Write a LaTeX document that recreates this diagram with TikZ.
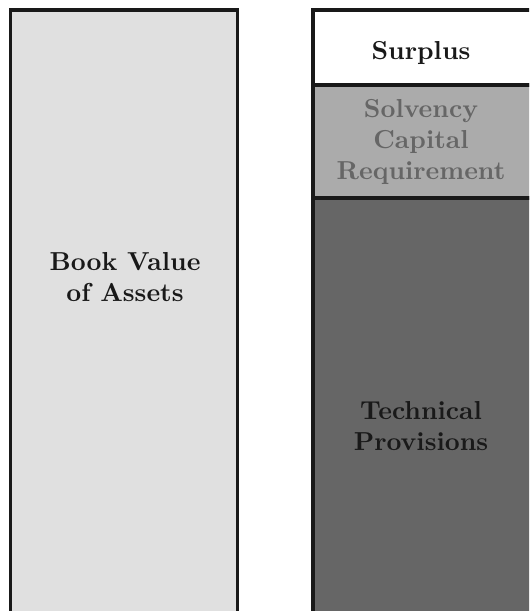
\documentclass[tikz,border=0pt]{standalone}
\usepackage{tikz}

\tikzset{
  block/.style={draw=black!90, line width=1.2pt},
  blocklabel/.style={font=\bfseries, align=center, text=black!90},
}

\begin{document}
\begin{tikzpicture}[x=0.385pt, y=-0.385pt]
			% Fix the frame of the picture:
			\useasboundingbox (0, 0) rectangle (529, 611);
			\clip (0, 0) rectangle (529, 611);
			% Specify the corners of the assets column:
			\coordinate (A0) at (10.5, 10);
			\coordinate (A1) at (237.5, 660);
			% Specify the corners of the liabilities column:
			\coordinate (L0) at (313, 10);
			\coordinate (L1) at (534, 85);
			\coordinate (L2) at (313, 85);
			\coordinate (L3) at (534, 198);
			\coordinate (L4) at (313, 198);
			\coordinate (L5) at (534, 660);
			% Draw the blocks:
			\draw[block, fill=black!12] (A0) rectangle (A1);
			\draw[block, fill=white] (L0) rectangle (L1);
			\draw[block, fill=black!33] (L2) rectangle (L3);
			\draw[block, fill=black!60] (L4) rectangle (L5);
			% Specify the position of the labels:
			\coordinate (C0) at (125, 277);
			\node[blocklabel] (assets) at (C0) {Book Value\\of Assets};
			\coordinate (C1) at (421, 53);
			\node[blocklabel] (surplus) at (C1) {Surplus};
			\coordinate (C2) at (421, 142);
			\node[blocklabel, text=black!60] (scr) at (C2) {Solvency\\Capital\\Requirement};
			\coordinate (C3) at (421, 426);
			\node[blocklabel] (tp) at (C3) {Technical\\Provisions};
		\end{tikzpicture}
\end{document}
